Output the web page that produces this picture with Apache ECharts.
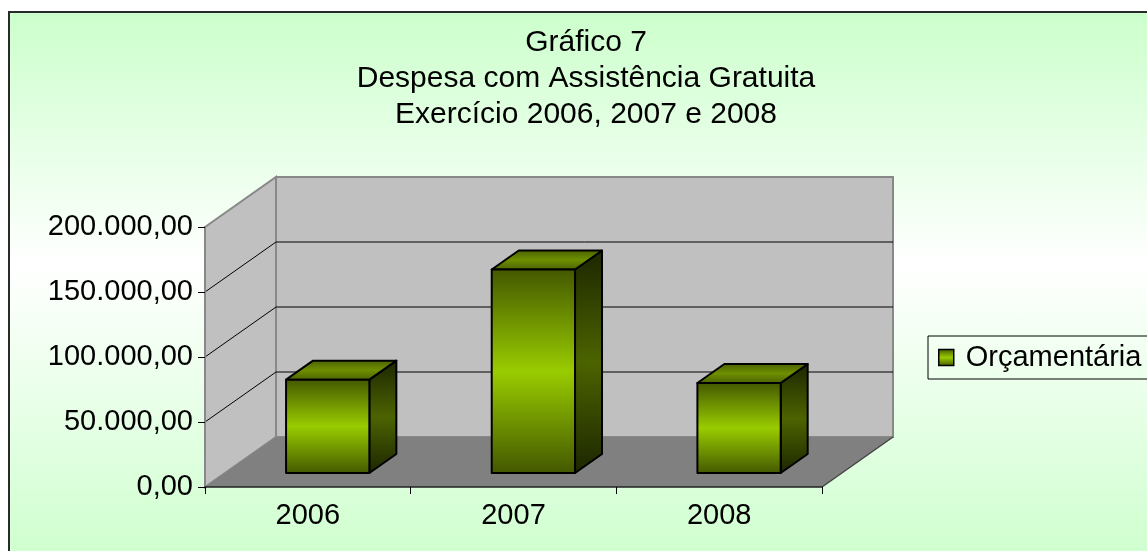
<!DOCTYPE html>
<html>
<head>
<meta charset="utf-8">
<title>Gráfico 7</title>
<script src="https://cdn.jsdelivr.net/npm/echarts@6/dist/echarts.min.js"></script>
<style>
  html, body { margin: 0; padding: 0; background: #fff; overflow: hidden; width: 1147px; height: 551px; }
  #bg {
    position: absolute; left: 8px; top: 11px; width: 1200px; height: 560px;
    border-left: 2px solid #2a2a2a; border-top: 2px solid #2a2a2a;
    background: linear-gradient(to bottom, #ccffcc 0%, #ffffff 45%, #ccffcc 100%);
  }
  #chart { position: absolute; left: 0; top: 0; width: 1147px; height: 551px; }
</style>
</head>
<body>
<div id="bg"></div>
<div id="chart"></div>
<script>
// dados
var TITLE = 'Gráfico 7\nDespesa com Assistência Gratuita\nExercício 2006, 2007 e 2008';
var SERIES_NAME = 'Orçamentária';
var YEARS = ['2006', '2007', '2008'];
var VALUES = [71800, 156500, 69200];
var Y_MIN = 0, Y_MAX = 200000, Y_STEP = 50000;
var GRID_LINES = [50000, 100000, 150000];

// efeito 3D: deslocamento da parede do fundo e profundidade das barras
var DX = 71, DY = -50;
var F0 = 0.28, F1 = 0.66;
var BAR_RATIO = 0.405;
var FONT = '"Liberation Sans", Arial, sans-serif';

var LG = echarts.graphic.LinearGradient;
function frontGrad() {
  return new LG(0, 0, 0, 1, [
    {offset: 0, color: '#435700'},
    {offset: 0.5, color: '#99cc00'},
    {offset: 1, color: '#435700'}
  ]);
}
function sideGrad() {
  return new LG(0, 0, 0, 1, [
    {offset: 0, color: '#1c2600'},
    {offset: 0.5, color: '#4c6300'},
    {offset: 1, color: '#1c2600'}
  ]);
}
function topGrad() {
  return new LG(0, 0, 0, 1, [
    {offset: 0, color: '#4a6000'},
    {offset: 0.5, color: '#6e8f00'},
    {offset: 1, color: '#4a6000'}
  ]);
}

// 200000 -> "200.000,00"
function fmt(v) {
  return Math.round(v).toString().replace(/\B(?=(\d{3})+(?!\d))/g, '.') + ',00';
}

function renderWalls(params, api) {
  var cs = params.coordSys;
  var x0 = cs.x, y0 = cs.y, w = cs.width, h = cs.height;
  return {
    type: 'group',
    children: [
      {type: 'rect', shape: {x: x0 + DX, y: y0 + DY, width: w, height: h},
        style: {fill: '#c0c0c0', stroke: '#888', lineWidth: 2}},
      {type: 'polygon', shape: {points: [[x0, y0], [x0 + DX, y0 + DY], [x0 + DX, y0 + h + DY], [x0, y0 + h]]},
        style: {fill: '#c0c0c0', stroke: '#888', lineWidth: 2}},
      {type: 'polygon', shape: {points: [[x0, y0 + h], [x0 + DX, y0 + h + DY], [x0 + w + DX, y0 + h + DY], [x0 + w, y0 + h]]},
        style: {fill: '#808080'}},
      {type: 'line', shape: {x1: x0 + w, y1: y0 + h, x2: x0 + w + DX, y2: y0 + h + DY},
        style: {stroke: '#444', lineWidth: 1.5}}
    ]
  };
}

function renderGrid(params, api) {
  var cs = params.coordSys;
  var y = api.coord([0, api.value(1)])[1];
  return {
    type: 'polyline',
    shape: {points: [[cs.x, y], [cs.x + DX, y + DY], [cs.x + cs.width + DX, y + DY]]},
    style: {stroke: '#000', lineWidth: 1, fill: null}
  };
}

function renderBar(params, api) {
  var i = api.value(0), v = api.value(1);
  var base = api.coord([i, 0]), top = api.coord([i, v]);
  var bw = api.size([1, 0])[0] * BAR_RATIO;
  var xl = base[0] - bw / 2 + F0 * DX, xr = xl + bw;
  var yb = base[1] + F0 * DY, yt = top[1] + F0 * DY;
  var ddx = (F1 - F0) * DX, ddy = (F1 - F0) * DY;
  var line = {stroke: '#000', lineWidth: 2, lineJoin: 'round'};
  return {
    type: 'group',
    children: [
      {type: 'polygon', shape: {points: [[xr, yt], [xr + ddx, yt + ddy], [xr + ddx, yb + ddy], [xr, yb]]},
        style: Object.assign({fill: sideGrad()}, line)},
      {type: 'polygon', shape: {points: [[xl, yt], [xl + ddx, yt + ddy], [xr + ddx, yt + ddy], [xr, yt]]},
        style: Object.assign({fill: topGrad()}, line)},
      {type: 'rect', shape: {x: xl, y: yt, width: bw, height: yb - yt},
        style: Object.assign({fill: frontGrad()}, line)}
    ]
  };
}

var chart = echarts.init(document.getElementById('chart'));
chart.setOption({
  animation: false,
  backgroundColor: 'transparent',
  title: {
    text: TITLE,
    left: 586,
    top: 25,
    textAlign: 'center',
    padding: 0,
    textStyle: {fontSize: 30, lineHeight: 36, fontWeight: 'normal', color: '#000', fontFamily: FONT}
  },
  legend: {
    data: [SERIES_NAME],
    left: 928,
    top: 336,
    selectedMode: false,
    padding: [7, 60, 7, 10],
    borderColor: '#000',
    borderWidth: 1,
    icon: 'rect',
    itemWidth: 15,
    itemHeight: 16,
    itemStyle: {color: frontGrad(), borderColor: '#000', borderWidth: 1.5},
    textStyle: {fontSize: 29, color: '#000', fontFamily: FONT, padding: [0, 0, 0, 7]}
  },
  grid: {left: 205, top: 227, width: 617, height: 260},
  xAxis: {
    type: 'category',
    data: YEARS,
    boundaryGap: true,
    z: 10,
    axisLine: {show: true, lineStyle: {color: '#222', width: 1.5}},
    axisTick: {show: true, length: 7, alignWithLabel: false, lineStyle: {color: '#000'}},
    axisLabel: {fontSize: 29, margin: 14, color: '#000', fontFamily: FONT},
    splitLine: {show: false}
  },
  yAxis: {
    type: 'value',
    min: Y_MIN,
    max: Y_MAX,
    interval: Y_STEP,
    z: 10,
    axisLine: {show: true, lineStyle: {color: '#888', width: 2}},
    axisTick: {show: true, length: 7, lineStyle: {color: '#000'}},
    axisLabel: {fontSize: 29, margin: 12, color: '#000', fontFamily: FONT, formatter: fmt},
    splitLine: {show: false}
  },
  series: [
    {name: 'walls', type: 'custom', z: 1, silent: true, renderItem: renderWalls, data: [[0, 0]]},
    {name: 'grid', type: 'custom', z: 1, silent: true, renderItem: renderGrid,
      data: GRID_LINES.map(function (v) { return [0, v]; })},
    {name: SERIES_NAME, type: 'custom', z: 2, renderItem: renderBar,
      itemStyle: {color: '#99cc00'},
      data: VALUES.map(function (v, i) { return [i, v]; })}
  ]
});
</script>
</body>
</html>
